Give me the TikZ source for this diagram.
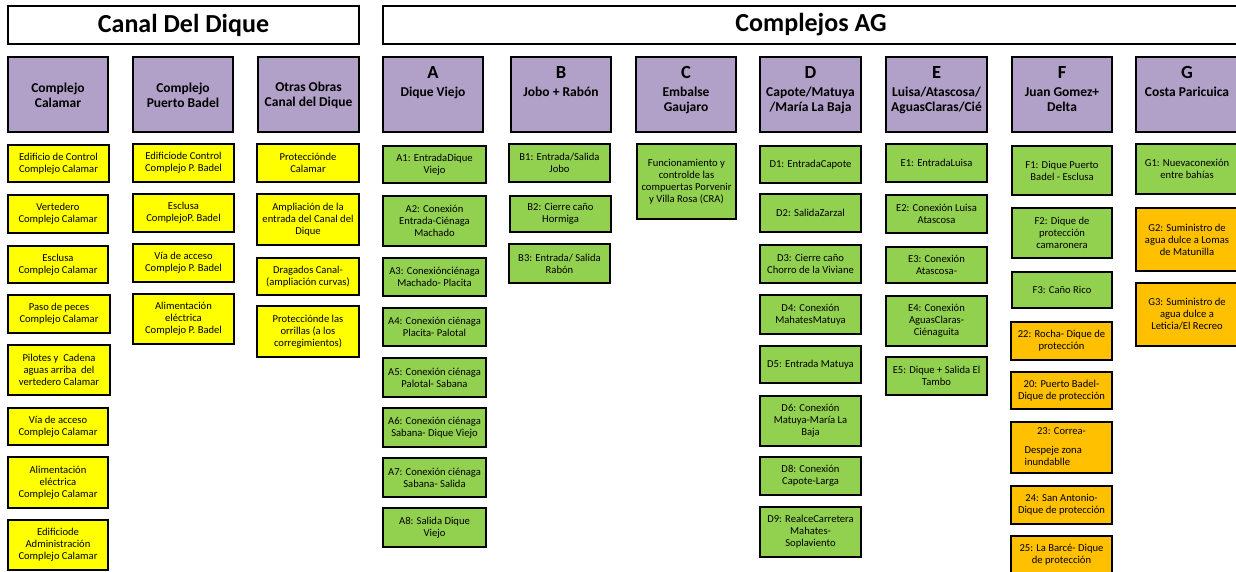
\documentclass[tikz,border=0pt]{standalone}
\usepackage{fontspec}
\setmainfont{Carlito}
\definecolor{ylw}{HTML}{FFFF00}
\definecolor{grn}{HTML}{92D050}
\definecolor{org}{HTML}{FFC000}
\definecolor{prp}{HTML}{B1A0C7}
\newcommand\bx[7]{%
  \pgfmathsetmacro\bxw{#5-#3}\pgfmathsetmacro\bxh{#6-#4}%
  \node[#1, minimum width=\bxw pt, minimum height=\bxh pt] (#2) at ({(#3+#5)/2},{(#4+#6)/2}) {};
  \node[txt] (#2t) at (#2.center) {#7};}
\newcommand\cx[6]{%
  \pgfmathsetmacro\bxw{#4-#2}\pgfmathsetmacro\bxh{#5-#3}%
  \node[pbox, minimum width=\bxw pt, minimum height=\bxh pt] (#1) at ({(#2+#4)/2},{(#3+#5)/2}) {};
  \node[htxt] (#1t) at ([yshift=-1pt]#1.center) {#6};}
\newcommand\hx[7]{%
  \pgfmathsetmacro\bxw{#5-#3}\pgfmathsetmacro\bxh{#6-#4}%
  \node[pbox, minimum width=\bxw pt, minimum height=\bxh pt] (#2) at ({(#3+#5)/2},{(#4+#6)/2}) {};
  \node[htxt, anchor=north] (#2t) at ([yshift=-10pt]#2.north) {{\fontsize{18.5}{17}\selectfont #1}\\[2pt]#7};}
\begin{document}
\begin{tikzpicture}[x=1pt,y=-1pt,
  bbox/.style={draw=black, line width=1.1pt, inner sep=0pt},
  ybox/.style={bbox, fill=ylw},
  gbox/.style={bbox, fill=grn},
  obox/.style={bbox, fill=org},
  pbox/.style={bbox, fill=prp},
  tbox/.style={bbox, fill=white},
  txt/.style={inner sep=0pt, align=center, font=\fontsize{10.6}{12}\selectfont},
  htxt/.style={inner sep=0pt, align=center, font=\bfseries\fontsize{13.5}{15.5}\selectfont},
  ttxt/.style={inner sep=0pt, font=\bfseries\fontsize{26}{30}\selectfont}]
\useasboundingbox (0,0) rectangle (1236,571);
% titles
\node[tbox, minimum width=351pt, minimum height=38pt] (canal) at (183.5,25) {};
\node[ttxt] (canalt) at (canal.center) {Canal Del Dique};
\node[tbox, minimum width=856pt, minimum height=38pt] (ag) at (811,25) {};
\node[ttxt] (agt) at (ag.center) {Complejos AG};
% Canal headers
\cx{h1}{8}{57}{108}{132}{Complejo\\Calamar}
\cx{h2}{133}{57}{233}{132}{Complejo\\Puerto Badel}
\cx{h3}{258}{57}{359}{132}{Otras Obras\\Canal del Dique}
% AG headers
\hx{A}{ha}{383}{57}{483}{132}{Dique Viejo}
\hx{B}{hb}{511}{57}{611}{132}{Jobo + Rabón}
\hx{C}{hc}{636}{57}{736}{132}{Embalse\\Gaujaro}
\hx{D}{hd}{760}{57}{861}{132}{Capote/Matuya\\/María La Baja}
\hx{E}{he}{886}{57}{987}{132}{Luisa/Atascosa/\\AguasClaras/Cié}
\hx{F}{hf}{1012}{57}{1112}{132}{Juan Gomez+\\Delta}
\hx{G}{hg}{1136}{57}{1238}{132}{Costa Paricuica}
% column 1
\bx{ybox}{ca}{8}{145}{109}{182}{Edificio de Control\\Complejo Calamar}
\bx{ybox}{cb}{8}{195}{108}{233}{Vertedero\\Complejo Calamar}
\bx{ybox}{cc}{8}{246}{108}{283}{Esclusa\\Complejo Calamar}
\bx{ybox}{cd}{8}{295}{110}{333}{Paso de peces\\Complejo Calamar}
\bx{ybox}{ce}{8}{345}{110}{395}{Pilotes y~~Cadena\\aguas arriba~ del\\vertedero Calamar}
\bx{ybox}{cf}{8}{408}{108}{445}{Vía de acceso\\Complejo Calamar}
\bx{ybox}{cg}{8}{457}{108}{508}{Alimentación\\eléctrica\\Complejo Calamar}
\bx{ybox}{ch}{8}{520}{108}{570}{Edificiode\\Administración\\Complejo Calamar}
% column 2
\bx{ybox}{pa}{133}{144}{234}{182}{Edificiode Control\\Complejo P. Badel}
\bx{ybox}{pb}{133}{194}{234}{232}{Esclusa\\ComplejoP. Badel}
\bx{ybox}{pc}{133}{244}{234}{282}{Vía de acceso\\Complejo P. Badel}
\bx{ybox}{pd}{133}{294}{234}{344}{Alimentación\\eléctrica\\Complejo P. Badel}
% column 3
\bx{ybox}{oa}{257}{144}{359}{182}{Protecciónde\\Calamar}
\bx{ybox}{ob}{257}{194}{359}{245}{Ampliación de la\\entrada del Canal del\\Dique}
\bx{ybox}{oc}{257}{258}{359}{295}{Dragados Canal-\\(ampliación curvas)}
\bx{ybox}{od}{257}{306}{359}{357}{Protecciónde las\\orrillas (a los\\corregimientos)}
% A
\bx{gbox}{a1}{383}{146}{486}{183}{A1: EntradaDique\\Viejo}
\bx{gbox}{a2}{383}{196}{486}{246}{A2: Conexión\\Entrada-Ciénaga\\Machado}
\bx{gbox}{a3}{383}{258}{486}{296}{A3: Conexiónciénaga\\Machado- Placita}
\bx{gbox}{a4}{383}{308}{486}{346}{A4: Conexión ciénaga\\Placita- Palotal}
\bx{gbox}{a5}{383}{358}{486}{397}{A5: Conexión ciénaga\\Palotal- Sabana}
\bx{gbox}{a6}{383}{408}{486}{447}{A6: Conexión ciénaga\\Sabana- Dique Viejo}
\bx{gbox}{a7}{383}{458}{486}{497}{A7: Conexión ciénaga\\Sabana- Salida}
\bx{gbox}{a8}{383}{508}{486}{547}{A8: Salida Dique\\Viejo}
% B
\bx{gbox}{b1}{509}{144}{610}{182}{B1: Entrada/Salida\\Jobo}
\bx{gbox}{b2}{510}{196}{611}{232}{B2: Cierre caño\\Hormiga}
\bx{gbox}{b3}{509}{244}{610}{283}{B3: Entrada/ Salida\\Rabón}
% C
\bx{gbox}{c1}{637}{144}{736}{219}{Funcionamiento y\\controlde las\\compuertas Porvenir\\y Villa Rosa (CRA)}
% D
\bx{gbox}{d1}{760}{146}{861}{183}{D1: EntradaCapote}
\bx{gbox}{d2}{760}{194}{861}{232}{D2: SalidaZarzal}
\bx{gbox}{d3}{760}{245}{861}{283}{D3: Cierre caño\\Chorro de la Viviane}
\bx{gbox}{d4}{760}{295}{861}{334}{D4: Conexión\\MahatesMatuya}
\bx{gbox}{d5}{760}{346}{861}{383}{D5: Entrada Matuya}
\bx{gbox}{d6}{760}{396}{861}{446}{D6: Conexión\\Matuya-María La\\Baja}
\bx{gbox}{d8}{760}{457}{861}{495}{D8: Conexión\\Capote-Larga}
\bx{gbox}{d9}{760}{507}{861}{557}{D9: RealceCarretera\\Mahates-\\Soplaviento}
% E
\bx{gbox}{e1}{886}{144}{987}{182}{E1: EntradaLuisa}
\bx{gbox}{e2}{886}{195}{987}{233}{E2: Conexión Luisa\\Atascosa}
\bx{gbox}{e3}{886}{247}{987}{283}{E3: Conexión\\Atascosa-}
\bx{gbox}{e4}{886}{296}{987}{346}{E4: Conexión\\AguasClaras-\\Ciénaguita}
\bx{gbox}{e5}{886}{357}{987}{395}{E5: Dique + Salida El\\Tambo}
% F
\bx{gbox}{f1}{1012}{146}{1112}{195}{F1: Dique Puerto\\Badel - Esclusa}
\bx{gbox}{f2}{1012}{208}{1112}{258}{F2: Dique de\\protección\\camaronera}
\bx{gbox}{f3}{1012}{272}{1112}{308}{F3: Caño Rico}
\bx{obox}{r22}{1011}{322}{1112}{360}{22: Rocha- Dique de\\protección}
\bx{obox}{r20}{1011}{372}{1112}{409}{20: Puerto Badel-\\Dique de protección}
\node[obox, minimum width=101pt, minimum height=51pt] (r23) at (1061.5,447.5) {};
\node[txt] (r23a) at ([yshift=-10pt]r23.north) {23: Correa-};
\node[txt, align=left, anchor=north west] (r23b) at ([xshift=14pt,yshift=-25pt]r23.north west) {Despeje zona\\inundablle};
\bx{obox}{r24}{1011}{486}{1112}{524}{24: San Antonio-\\Dique de protección}
\bx{obox}{r25}{1011}{536}{1112}{574}{25: La Barcé- Dique\\de protección}
% G
\bx{gbox}{g1}{1136}{144}{1238}{194}{G1: Nuevaconexión\\entre bahías}
\bx{obox}{g2}{1136}{208}{1238}{271}{G2: Suministro de\\agua dulce a Lomas\\de Matunilla}
\bx{obox}{g3}{1136}{283}{1238}{346}{G3: Suministro de\\agua dulce a\\Leticia/El Recreo}
\end{tikzpicture}
\end{document}
